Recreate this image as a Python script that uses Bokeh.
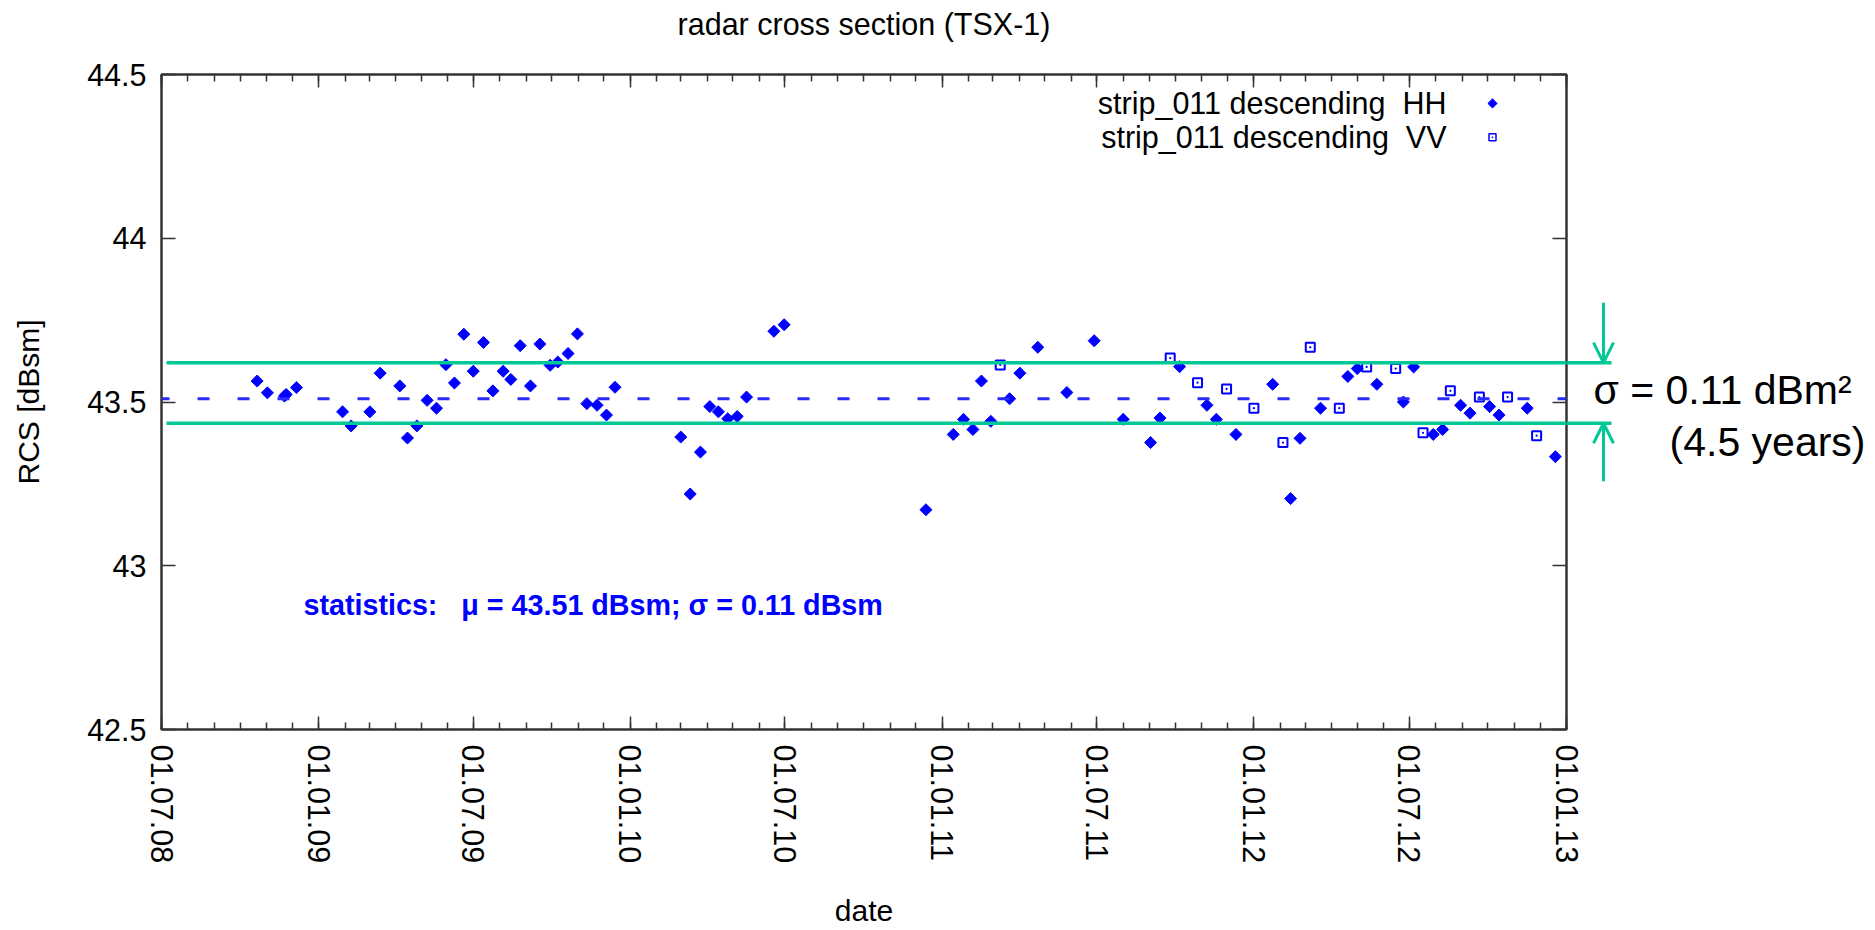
import math
import pandas as pd
from bokeh.plotting import figure
from bokeh.layouts import row
from bokeh.models import (Range1d, FixedTicker, CustomJSTickFormatter, DatetimeAxis, LinearAxis,
                          Label, Arrow, OpenHead, Span, ColumnDataSource)
from bokeh.embed import file_html
from bokeh.resources import INLINE

# ---------------- data ----------------
hh_dates = [
    "2008-10-21", "2008-11-02", "2008-11-22", "2008-11-24", "2008-12-06",
    "2009-01-29", "2009-02-08", "2009-03-02", "2009-03-14", "2009-04-06", "2009-04-15", "2009-04-26",
    "2009-05-08", "2009-05-19", "2009-05-30", "2009-06-09", "2009-06-20", "2009-07-01", "2009-07-13",
    "2009-07-24", "2009-08-05", "2009-08-14", "2009-08-25", "2009-09-06", "2009-09-17", "2009-09-29",
    "2009-10-08", "2009-10-20", "2009-10-31", "2009-11-11", "2009-11-23", "2009-12-04", "2009-12-14",
    "2010-03-01", "2010-03-12", "2010-03-24", "2010-04-04", "2010-04-14", "2010-04-25", "2010-05-06",
    "2010-05-17", "2010-06-18", "2010-06-30",
    "2010-12-13", "2011-01-14", "2011-01-26", "2011-02-06", "2011-02-16", "2011-02-27", "2011-03-21",
    "2011-04-02", "2011-04-23", "2011-05-27", "2011-06-28", "2011-08-01", "2011-09-02", "2011-09-13",
    "2011-10-06", "2011-11-07", "2011-11-18", "2011-12-11", "2012-01-23", "2012-02-13", "2012-02-24",
    "2012-03-19", "2012-04-20", "2012-05-01", "2012-05-24", "2012-06-24", "2012-07-06", "2012-07-29",
    "2012-08-09", "2012-08-30", "2012-09-10", "2012-10-03", "2012-10-14", "2012-11-16", "2012-12-19",
]
hh_rcs = [
    43.564, 43.528, 43.518, 43.523, 43.544,
    43.470, 43.427, 43.470, 43.588, 43.549, 43.390, 43.427,
    43.505, 43.481, 43.614, 43.558, 43.707, 43.594, 43.682,
    43.534, 43.594, 43.569, 43.672, 43.549, 43.677, 43.612,
    43.622, 43.648, 43.708, 43.495, 43.490, 43.460, 43.545,
    43.393, 43.219, 43.347, 43.486, 43.470, 43.449, 43.456,
    43.515, 43.716, 43.736,
    43.171, 43.401, 43.447, 43.416, 43.564, 43.441, 43.510,
    43.588, 43.667, 43.529, 43.687, 43.447, 43.376, 43.451,
    43.608, 43.490, 43.447, 43.401, 43.554, 43.205, 43.389,
    43.481, 43.578, 43.602, 43.554, 43.500, 43.607, 43.401,
    43.416, 43.490, 43.466, 43.486, 43.460, 43.481, 43.333,
]
vv_dates = [
    "2011-03-10", "2011-09-25", "2011-10-27", "2011-11-30", "2012-01-01",
    "2012-02-04", "2012-03-07", "2012-04-10", "2012-05-12", "2012-06-15",
    "2012-07-17", "2012-08-18", "2012-09-21", "2012-10-24", "2012-11-27",
]
vv_rcs = [
    43.613, 43.634, 43.559, 43.540, 43.481,
    43.376, 43.667, 43.481, 43.607, 43.602,
    43.406, 43.534, 43.515, 43.515, 43.397,
]
MEAN = 43.51
BAND_HI = 43.62
BAND_LO = 43.435

x_tick_dates = ["2008-07-01", "2009-01-01", "2009-07-01", "2010-01-01", "2010-07-01",
                "2011-01-01", "2011-07-01", "2012-01-01", "2012-07-01", "2013-01-01"]
y_ticks = [42.5, 43.0, 43.5, 44.0, 44.5]

NB = "\u00a0"
TITLE = "radar cross section (TSX-1)"
X_LABEL = "date"
Y_LABEL = "RCS [dBsm]"
HH_LABEL = "strip_011 descending" + NB + NB + "HH"
VV_LABEL = "strip_011 descending" + NB + NB + "VV"
STATS = "statistics:" + NB * 3 + "\u03bc = 43.51 dBsm; \u03c3 = 0.11 dBsm"
NOTE1 = "\u03c3 = 0.11 dBm\u00b2"
NOTE2 = "(4.5 years)"

# ---------------- styling / layout ----------------
FONT = "Liberation Sans"
BLUE = "#0000ff"
GREEN = "#00c896"
AX = "#333333"
W, H = 1875, 930
FL, FR, FT, FB = 161, 1566, 74, 731   # frame edges in page pixels
RB = 20                               # right border of the main figure (room for last tick label)


def ms(d):
    return pd.Timestamp(d).value / 1e6


X0, X1 = ms(x_tick_dates[0]), ms(x_tick_dates[-1])
Y0, Y1 = y_ticks[0], y_ticks[-1]


def sx(px):
    return X0 + (px - FL) / (FR - FL) * (X1 - X0)


def sy(py):
    return Y1 - (py - FT) / (FB - FT) * (Y1 - Y0)


p = figure(width=FR + RB, height=H, x_axis_type="datetime",
           x_range=Range1d(X0, X1), y_range=Range1d(Y0, Y1),
           output_backend="svg", toolbar_location=None,
           min_border_left=FL, min_border_right=RB,
           min_border_top=FT, min_border_bottom=H - FB)
p.background_fill_color = "white"
p.border_fill_color = "white"
p.outline_line_color = AX
p.outline_line_width = 2
p.xgrid.visible = False
p.ygrid.visible = False

major_ms = [ms(d) for d in x_tick_dates]
minor_ms = [ts.value / 1e6 for ts in pd.date_range(x_tick_dates[0], x_tick_dates[-1], freq="MS")]

x_fmt = CustomJSTickFormatter(code="""
const d = new Date(tick);
const dd = String(d.getUTCDate()).padStart(2, '0');
const mm = String(d.getUTCMonth() + 1).padStart(2, '0');
const yy = String(d.getUTCFullYear() % 100).padStart(2, '0');
return dd + '.' + mm + '.' + yy;
""")
blank_fmt = CustomJSTickFormatter(code="return '';")
y_fmt = CustomJSTickFormatter(code="return String(tick);")


def style_axis(ax, tin, mtin):
    ax.axis_line_color = AX
    ax.axis_line_width = 2
    ax.major_tick_line_color = AX
    ax.minor_tick_line_color = AX
    ax.major_tick_line_width = 1.5
    ax.minor_tick_line_width = 1.5
    ax.major_tick_in = tin
    ax.major_tick_out = 0
    ax.minor_tick_in = mtin
    ax.minor_tick_out = 0
    ax.major_label_text_font = FONT
    ax.major_label_text_font_size = "30.5px"
    ax.major_label_text_color = "black"
    ax.axis_label_text_font = FONT
    ax.axis_label_text_font_size = "30px"
    ax.axis_label_text_font_style = "normal"
    ax.axis_label_text_color = "black"


xa = p.xaxis[0]
xa.ticker = FixedTicker(ticks=major_ms, minor_ticks=minor_ms)
xa.formatter = x_fmt
style_axis(xa, 13, 7)
xa.major_label_orientation = "vertical"
xa.major_label_standoff = 15
xa.axis_label = X_LABEL
xa.axis_label_standoff = 28

ya = p.yaxis[0]
ya.ticker = FixedTicker(ticks=y_ticks, minor_ticks=[])
ya.formatter = y_fmt
style_axis(ya, 14, 0)
ya.major_label_standoff = 15
ya.axis_label = Y_LABEL
ya.axis_label_standoff = 39

# top axis (mirrored ticks) carries the chart title above it
top = DatetimeAxis(ticker=FixedTicker(ticks=major_ms, minor_ticks=minor_ms), formatter=blank_fmt)
style_axis(top, 13, 7)
top.major_label_text_font_size = "0px"
top.major_label_standoff = 0
top.axis_label = TITLE
top.axis_label_text_font_size = "30.5px"
top.axis_label_standoff = 34
p.add_layout(top, "above")

right = LinearAxis(ticker=FixedTicker(ticks=y_ticks, minor_ticks=[]), formatter=blank_fmt)
style_axis(right, 14, 0)
right.major_label_text_font_size = "0px"
right.major_label_standoff = 0
p.add_layout(right, "right")

# mean (dashed) line
p.add_layout(Span(location=MEAN, dimension="width", line_color="#2a2aff",
                  line_width=3, line_dash="12 28", line_dash_offset=4))

# data
hh_src = ColumnDataSource(dict(date=pd.to_datetime(hh_dates), rcs=hh_rcs))
vv_src = ColumnDataSource(dict(date=pd.to_datetime(vv_dates), rcs=vv_rcs))
p.scatter(x="date", y="rcs", source=hh_src, marker="square", angle=math.pi / 4,
          size=8.5, fill_color=BLUE, line_color=BLUE, line_width=1)
p.scatter(x="date", y="rcs", source=vv_src, marker="square_dot", size=9,
          fill_color=None, line_color=BLUE, line_width=2)

# legend (gnuplot style: text, then key to its right)
for lab, py in ((HH_LABEL, 103), (VV_LABEL, 137)):
    p.add_layout(Label(x=sx(1446), y=sy(py), text=lab, text_align="right",
                       text_baseline="middle", text_font=FONT,
                       text_font_size="30.5px", text_color="black"))
p.scatter(x=[sx(1492)], y=[sy(103)], marker="square", angle=math.pi / 4, size=6.5,
          fill_color=BLUE, line_color=BLUE)
p.scatter(x=[sx(1492)], y=[sy(137)], marker="square_dot", size=7,
          fill_color=None, line_color=BLUE, line_width=1.5)

# statistics text
p.add_layout(Label(x=sx(303), y=sy(606), text=STATS, text_align="left",
                   text_baseline="middle", text_font=FONT, text_font_size="28.7px",
                   text_font_style="bold", text_color=BLUE))

# sigma band lines inside the frame
for lvl in (BAND_HI, BAND_LO):
    p.add_layout(Arrow(end=None, x_start=sx(166), y_start=lvl, x_end=X1, y_end=lvl,
                       line_color=GREEN, line_width=3.5))

# ---------------- side panel with the added sigma annotation ----------------
side = figure(width=W - FR, height=H, x_range=Range1d(FR, W), y_range=Range1d(Y0, Y1),
              output_backend="svg", toolbar_location=None,
              min_border_left=0, min_border_right=0,
              min_border_top=FT, min_border_bottom=H - FB)
side.xaxis.visible = False
side.yaxis.visible = False
side.grid.visible = False
side.outline_line_color = None
side.background_fill_color = None
side.border_fill_color = None
side.margin = (0, 0, 0, -RB)

for lvl in (BAND_HI, BAND_LO):
    side.add_layout(Arrow(end=None, x_start=FR, y_start=lvl, x_end=1611, y_end=lvl,
                          line_color=GREEN, line_width=3.5))
side.add_layout(Arrow(end=OpenHead(size=20, line_color=GREEN, line_width=3),
                      x_start=1603, y_start=sy(303), x_end=1603, y_end=BAND_HI,
                      line_color=GREEN, line_width=3))
side.add_layout(Arrow(end=OpenHead(size=20, line_color=GREEN, line_width=3),
                      x_start=1603, y_start=sy(482), x_end=1603, y_end=BAND_LO,
                      line_color=GREEN, line_width=3))
side.add_layout(Label(x=1593, y=sy(390), text=NOTE1, text_align="left",
                      text_baseline="middle", text_font=FONT, text_font_size="41px",
                      text_color="black"))
side.add_layout(Label(x=1865, y=sy(443), text=NOTE2, text_align="right",
                      text_baseline="middle", text_font=FONT, text_font_size="41px",
                      text_color="black"))

layout = row(p, side)
open("out.html", "w").write(file_html(layout, INLINE))
